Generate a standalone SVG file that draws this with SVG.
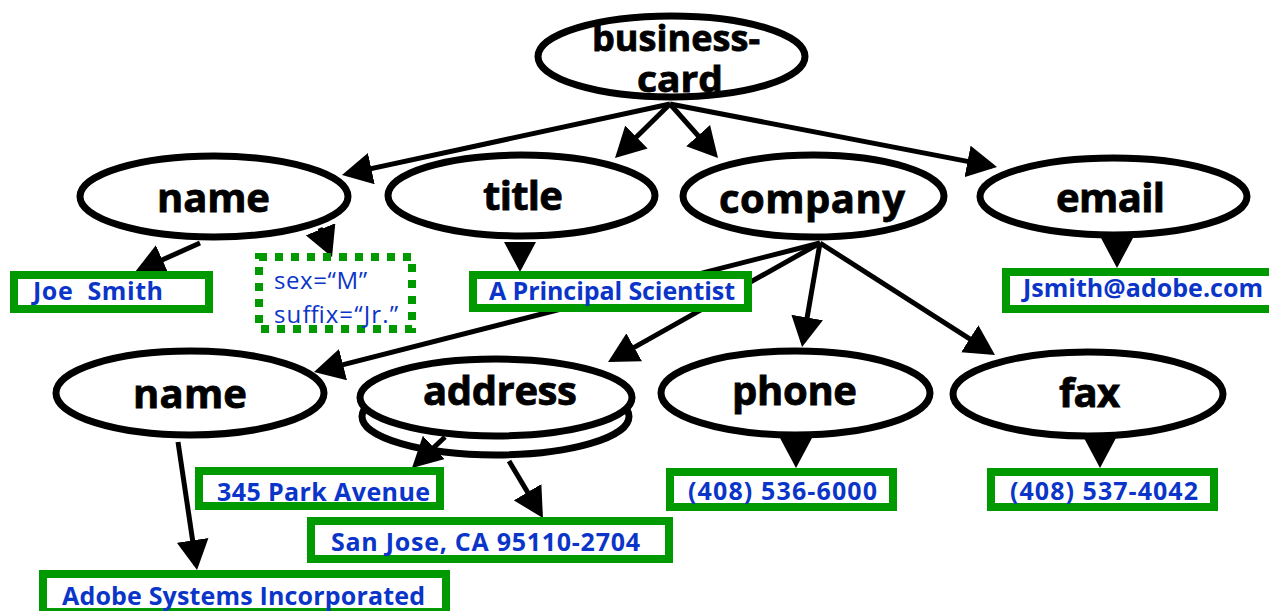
<svg xmlns="http://www.w3.org/2000/svg" width="1269" height="611" viewBox="0 0 1269 611">
<style>
.ell{fill:#fff;stroke:#000;stroke-width:7}
.lbl{font-family:"Open Sans","DejaVu Sans",sans-serif;font-weight:bold;font-size:40px;fill:#000;stroke:#000;stroke-width:0.8}
.top{font-size:36px}
.box{fill:#fff;stroke:#009900;stroke-width:8}
.dot{fill:#fff;stroke:#009900;stroke-width:8;stroke-dasharray:8 8}
.val{font-family:"Open Sans","DejaVu Sans",sans-serif;font-weight:bold;font-size:25px;fill:#0a35c8}
.att{font-family:"Open Sans","DejaVu Sans",sans-serif;font-size:24px;fill:#0a35c8}
.edge{stroke:#000;stroke-width:5;fill:none;marker-end:url(#ah)}
</style>
<defs>
<marker id="ah" markerUnits="userSpaceOnUse" viewBox="0 -16 30 32" refX="25" refY="0" markerWidth="30" markerHeight="32" orient="auto">
<path d="M0,-16 L30,0 L0,16 z" fill="#000"/>
</marker>
</defs>
<rect width="1269" height="611" fill="#fff"/>

<g id="node-business-card">
<ellipse class="ell" cx="671.5" cy="56.5" rx="133.5" ry="40.5"/>
<text class="lbl top"><tspan x="592" y="51" textLength="168" lengthAdjust="spacingAndGlyphs">business-</tspan><tspan x="637" y="92" textLength="86" lengthAdjust="spacingAndGlyphs">card</tspan></text>
</g>
<g id="node-name">
<ellipse class="ell" cx="214" cy="196.5" rx="134" ry="40.5"/>
<text class="lbl" x="157" y="212" textLength="113" lengthAdjust="spacing">name</text>
</g>
<g id="node-title">
<ellipse class="ell" cx="521.5" cy="195.5" rx="133.5" ry="40.5"/>
<text class="lbl" x="483" y="210" textLength="80" lengthAdjust="spacing">title</text>
</g>
<g id="node-company">
<ellipse class="ell" cx="813.5" cy="196" rx="130.5" ry="41"/>
<text class="lbl" x="719" y="213" textLength="186" lengthAdjust="spacing">company</text>
</g>
<g id="node-email">
<ellipse class="ell" cx="1113.5" cy="196.5" rx="133.5" ry="38.5"/>
<text class="lbl" x="1056" y="212" textLength="109" lengthAdjust="spacing">email</text>
</g>
<g id="node-company-name">
<ellipse class="ell" cx="190" cy="393" rx="134" ry="42"/>
<text class="lbl" x="133" y="408" textLength="114" lengthAdjust="spacing">name</text>
</g>
<g id="node-address">
<ellipse class="ell" cx="495.5" cy="416.5" rx="133.5" ry="38.5"/>
<ellipse class="ell" cx="496" cy="397.5" rx="136" ry="38.5"/>
<text class="lbl" x="423" y="405" textLength="154" lengthAdjust="spacing">address</text>
</g>
<g id="node-phone">
<ellipse class="ell" cx="795.5" cy="393" rx="134.5" ry="42"/>
<text class="lbl" x="732" y="405" textLength="125" lengthAdjust="spacing">phone</text>
</g>
<g id="node-fax">
<ellipse class="ell" cx="1088" cy="394" rx="135" ry="42"/>
<text class="lbl" x="1059" y="407" textLength="61" lengthAdjust="spacing">fax</text>
</g>

<g id="connectors">
<line class="edge" x1="670" y1="104" x2="346.9" y2="173.9"/>
<line class="edge" x1="670" y1="104" x2="618.6" y2="154.5"/>
<line class="edge" x1="670" y1="104" x2="714.7" y2="154.3"/>
<line class="edge" x1="670" y1="104" x2="992.1" y2="166.1"/>
<line class="edge" x1="200" y1="243" x2="139.6" y2="270"/>
<line class="edge" x1="320" y1="228" x2="330.1" y2="252.4"/>
<line class="edge" x1="520" y1="244" x2="520" y2="267"/>
<line class="edge" x1="1117" y1="240" x2="1117" y2="263"/>
<line class="edge" x1="820" y1="243" x2="318.8" y2="370.8"/>
<line class="edge" x1="820" y1="243" x2="612.4" y2="359.6"/>
<line class="edge" x1="820" y1="243" x2="802.9" y2="342.1"/>
<line class="edge" x1="820" y1="243" x2="990.8" y2="352.3"/>
<line class="edge" x1="178" y1="442" x2="196.3" y2="565.1"/>
<line class="edge" x1="445" y1="437" x2="415.6" y2="464.6"/>
<line class="edge" x1="509" y1="461" x2="540.4" y2="513.7"/>
<line class="edge" x1="796" y1="441" x2="796" y2="463"/>
<line class="edge" x1="1100" y1="441" x2="1100" y2="463"/>
</g>

<g id="node-joe-smith">
<rect class="box" x="14" y="275" width="195" height="34"/>
<text class="val" x="33" y="300" textLength="130" lengthAdjust="spacing" xml:space="preserve">Joe  Smith</text>
</g>
<g id="node-attributes">
<rect class="dot" x="259" y="257" width="153" height="72"/>
<text class="att" x="274" y="289" textLength="93" lengthAdjust="spacing">sex=“M”</text>
<text class="att" x="274" y="323" textLength="124" lengthAdjust="spacing">suffix=“Jr.”</text>
</g>
<g id="node-title-value">
<rect class="box" x="473" y="275" width="275" height="33"/>
<text class="val" x="489" y="300" textLength="246" lengthAdjust="spacing">A Principal Scientist</text>
</g>
<g id="node-email-value">
<rect class="box" x="1006" y="272" width="268" height="37"/>
<text class="val" x="1023" y="297" textLength="240" lengthAdjust="spacing">Jsmith@adobe.com</text>
</g>
<g id="node-street">
<rect class="box" x="199" y="471" width="241" height="35"/>
<text class="val" x="217" y="501" textLength="213" lengthAdjust="spacing">345 Park Avenue</text>
</g>
<g id="node-city">
<rect class="box" x="311" y="521" width="358" height="38"/>
<text class="val" x="331" y="551" textLength="309" lengthAdjust="spacing">San Jose, CA 95110-2704</text>
</g>
<g id="node-company-name-value">
<rect class="box" x="43" y="574" width="403" height="38"/>
<text class="val" x="62" y="605" textLength="363" lengthAdjust="spacing">Adobe Systems Incorporated</text>
</g>
<g id="node-phone-value">
<rect class="box" x="670" y="472" width="223" height="35"/>
<text class="val" x="688" y="500" textLength="189" lengthAdjust="spacing">(408) 536-6000</text>
</g>
<g id="node-fax-value">
<rect class="box" x="991" y="472" width="223" height="35"/>
<text class="val" x="1010" y="500" textLength="188" lengthAdjust="spacing">(408) 537-4042</text>
</g>
</svg>
